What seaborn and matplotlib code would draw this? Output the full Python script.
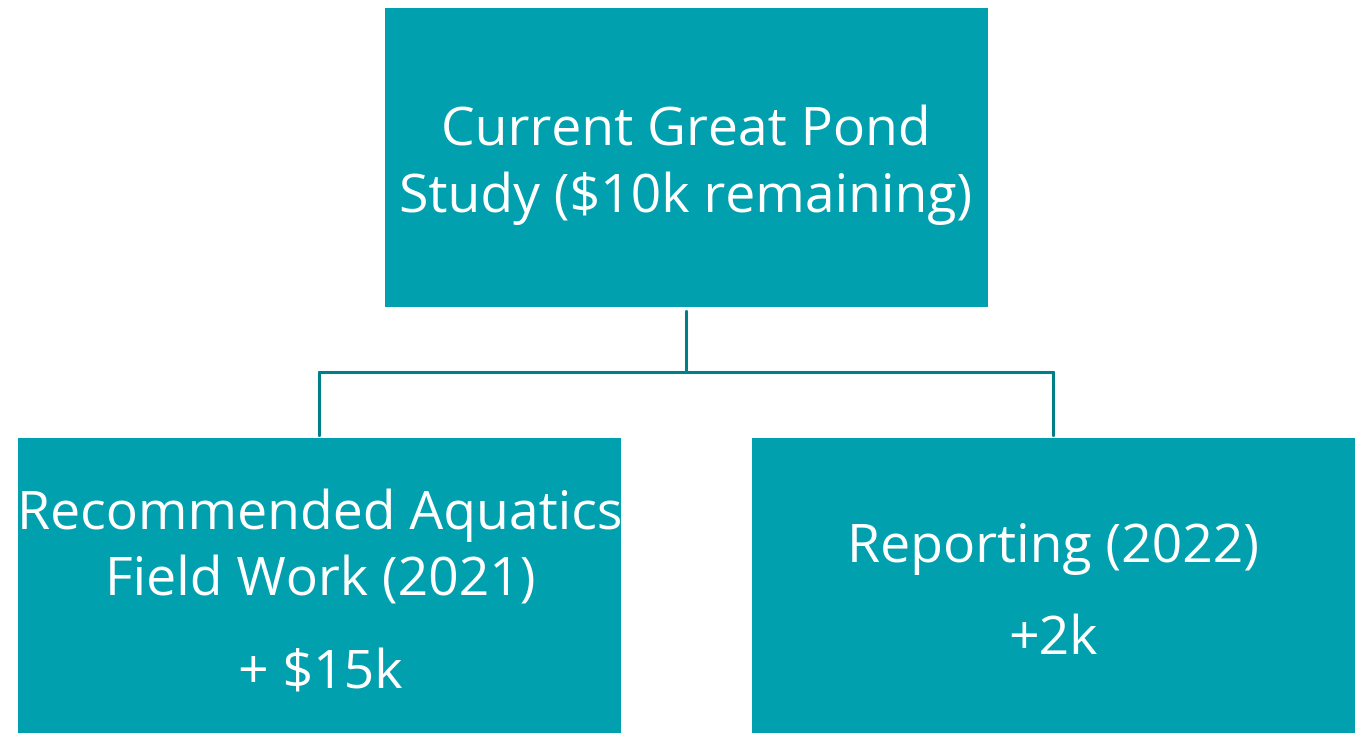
import matplotlib.pyplot as plt
import matplotlib.patches as patches
import seaborn as sns

# Org-chart text (one list of lines per box)
top_lines = ['Current Great Pond', 'Study ($10k remaining)']
left_lines = ['Recommended Aquatics', 'Field Work (2021)', '+ $15k']
right_lines = ['Reporting (2022)', '+2k']

box_color = '#00A0AE'
line_color = '#007F88'

sns.set_theme(style='white')
plt.rcParams['font.family'] = ['Open Sans', 'DejaVu Sans']

fig = plt.figure(figsize=(13.63, 7.33), dpi=100)
ax = fig.add_axes([0, 0, 1, 1])
ax.set_xlim(0, 1363)
ax.set_ylim(733, 0)
ax.axis('off')

# boxes: (x, y, w, h) in pixel units
boxes = [(385, 8, 603, 299), (18, 438, 603, 300), (752, 438, 603, 300)]
for x, y, w, h in boxes:
    ax.add_patch(patches.Rectangle((x, y), w, h, color=box_color, lw=0))

# connectors
ax.plot([686, 686], [311, 372], color=line_color, lw=2.2)
ax.plot([319, 1053], [372, 372], color=line_color, lw=2.2)
ax.plot([319, 319], [372, 435], color=line_color, lw=2.2)
ax.plot([1053, 1053], [372, 435], color=line_color, lw=2.2)

fs = 38.5
def put(lines, cx, baselines):
    for txt, yb in zip(lines, baselines):
        ax.text(cx, yb, txt, color='white', fontsize=fs, ha='center', va='baseline')

put(top_lines, 686, [146, 212])
put(left_lines, 320, [529, 596, 688])
put(right_lines, 1053, [562, 654])

fig.savefig('out.png', dpi=100)
